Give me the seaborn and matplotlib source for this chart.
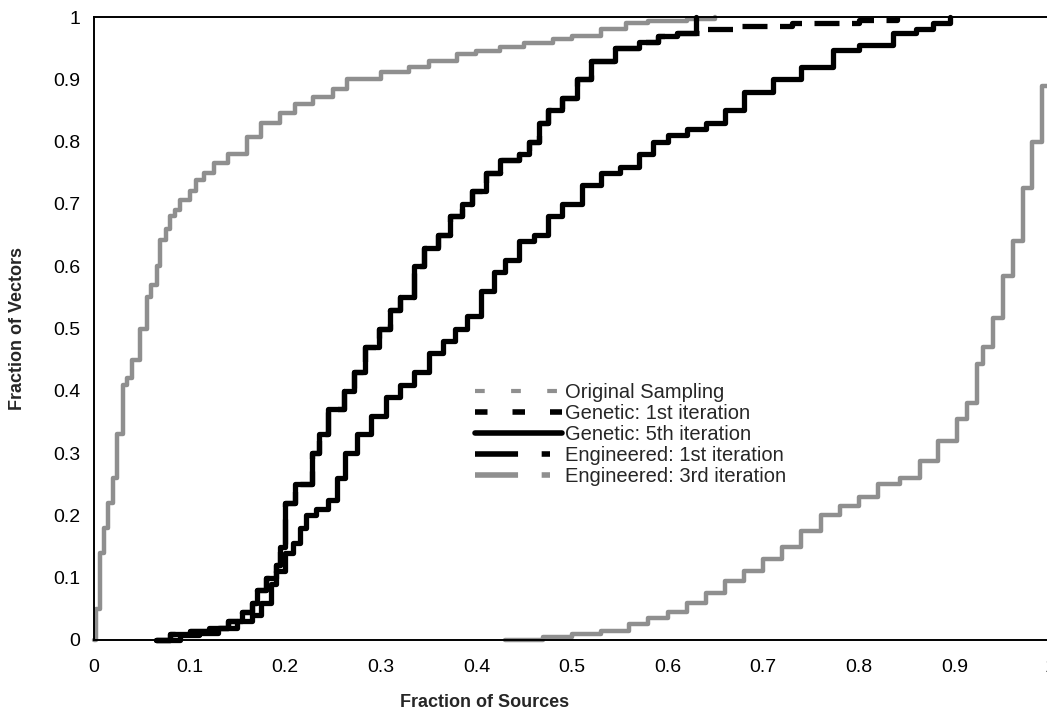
import numpy as np
import pandas as pd
import seaborn as sns
import matplotlib.pyplot as plt
from matplotlib.lines import Line2D
from matplotlib.ticker import FuncFormatter

# cumulative fractions
orig_x = [0.0, 0.002, 0.006, 0.01, 0.015, 0.02, 0.024, 0.03, 0.034, 0.04, 0.048, 0.055, 0.06, 0.066, 0.069,
          0.075, 0.08, 0.085, 0.09, 0.1, 0.107, 0.115, 0.125, 0.14, 0.16, 0.175, 0.195, 0.21, 0.229, 0.25,
          0.265, 0.3, 0.33, 0.35, 0.38, 0.4, 0.425, 0.45, 0.48, 0.5, 0.53, 0.557, 0.58, 0.62, 0.65]
orig_y = [0.0, 0.05, 0.14, 0.18, 0.22, 0.26, 0.33, 0.41, 0.42, 0.45, 0.5, 0.55, 0.57, 0.6, 0.642,
          0.66, 0.68, 0.69, 0.706, 0.72, 0.738, 0.75, 0.765, 0.78, 0.807, 0.83, 0.846, 0.86, 0.872, 0.885,
          0.9, 0.912, 0.92, 0.93, 0.94, 0.945, 0.952, 0.958, 0.965, 0.97, 0.98, 0.99, 0.993, 0.996, 1.0]

gen5_x = [0.065, 0.08, 0.10, 0.12, 0.14, 0.155, 0.165, 0.17, 0.18, 0.19, 0.195, 0.20, 0.21, 0.228, 0.235,
          0.245, 0.262, 0.272, 0.283, 0.298, 0.31, 0.32, 0.335, 0.345, 0.36, 0.372, 0.385, 0.395, 0.41,
          0.425, 0.445, 0.455, 0.465, 0.475, 0.49, 0.505, 0.52, 0.545, 0.57, 0.59, 0.61, 0.63]
gen5_y = [0.0, 0.01, 0.015, 0.02, 0.03, 0.045, 0.06, 0.08, 0.10, 0.12, 0.15, 0.22, 0.25, 0.30, 0.33,
          0.37, 0.40, 0.43, 0.47, 0.50, 0.53, 0.55, 0.60, 0.63, 0.65, 0.68, 0.70, 0.72, 0.75,
          0.77, 0.78, 0.80, 0.83, 0.85, 0.87, 0.90, 0.93, 0.95, 0.96, 0.97, 0.975, 1.0]

gen1_x = [0.065, 0.08, 0.10, 0.12, 0.14, 0.155, 0.165, 0.17, 0.18, 0.19, 0.195, 0.20, 0.21, 0.228, 0.235,
          0.245, 0.262, 0.272, 0.283, 0.298, 0.31, 0.32, 0.335, 0.345, 0.36, 0.372, 0.385, 0.395, 0.41,
          0.425, 0.445, 0.455, 0.465, 0.475, 0.49, 0.505, 0.52, 0.545, 0.57, 0.59, 0.61, 0.64, 0.67,
          0.73, 0.80, 0.84]
gen1_y = [0.0, 0.01, 0.015, 0.02, 0.03, 0.045, 0.06, 0.08, 0.10, 0.12, 0.15, 0.22, 0.25, 0.30, 0.33,
          0.37, 0.40, 0.43, 0.47, 0.50, 0.53, 0.55, 0.60, 0.63, 0.65, 0.68, 0.70, 0.72, 0.75,
          0.77, 0.78, 0.80, 0.83, 0.85, 0.87, 0.90, 0.93, 0.95, 0.96, 0.97, 0.975, 0.98, 0.985,
          0.99, 0.995, 1.0]

eng1_x = [0.065, 0.09, 0.11, 0.13, 0.15, 0.165, 0.175, 0.185, 0.19, 0.2, 0.208, 0.215, 0.222, 0.232, 0.245,
          0.254, 0.263, 0.275, 0.29, 0.305, 0.32, 0.335, 0.35, 0.365, 0.378, 0.39, 0.405, 0.418, 0.43,
          0.445, 0.46, 0.475, 0.49, 0.51, 0.53, 0.55, 0.57, 0.585, 0.60, 0.62, 0.64, 0.66, 0.68, 0.71,
          0.74, 0.773, 0.80, 0.836, 0.86, 0.878, 0.895]
eng1_y = [0.0, 0.008, 0.012, 0.02, 0.03, 0.04, 0.06, 0.09, 0.11, 0.14, 0.155, 0.18, 0.20, 0.21, 0.225,
          0.26, 0.30, 0.33, 0.36, 0.39, 0.41, 0.43, 0.46, 0.48, 0.50, 0.52, 0.56, 0.59, 0.61,
          0.64, 0.65, 0.68, 0.70, 0.73, 0.75, 0.76, 0.78, 0.80, 0.81, 0.82, 0.83, 0.85, 0.88, 0.90,
          0.92, 0.947, 0.955, 0.974, 0.98, 0.99, 1.0]

eng3_x = [0.43, 0.47, 0.5, 0.53, 0.56, 0.58, 0.6, 0.62, 0.64, 0.66, 0.68, 0.7, 0.72, 0.74, 0.76, 0.78,
          0.8, 0.82, 0.843, 0.864, 0.883, 0.903, 0.913, 0.924, 0.93, 0.94, 0.951, 0.961, 0.972, 0.981,
          0.992, 1.0]
eng3_y = [0.0, 0.005, 0.01, 0.015, 0.025, 0.035, 0.045, 0.06, 0.075, 0.095, 0.11, 0.13, 0.15, 0.175, 0.2,
          0.215, 0.23, 0.25, 0.26, 0.287, 0.32, 0.355, 0.38, 0.443, 0.47, 0.517, 0.585, 0.64, 0.726,
          0.80, 0.89, 0.89]

labels = ['Original Sampling', 'Genetic: 1st iteration', 'Genetic: 5th iteration',
          'Engineered: 1st iteration', 'Engineered: 3rd iteration']
xticks = [0, 0.1, 0.2, 0.3, 0.4, 0.5, 0.6, 0.7, 0.8, 0.9, 1]
yticks = [0, 0.1, 0.2, 0.3, 0.4, 0.5, 0.6, 0.7, 0.8, 0.9, 1]

sns.set_style('white')
plt.rcParams['font.family'] = ['Liberation Sans', 'DejaVu Sans']
plt.rcParams['lines.scale_dashes'] = False

GRAY = '#8f8f8f'
series = [
    (orig_x, orig_y, labels[0], GRAY, 3.2, '-'),
    (eng3_x, eng3_y, labels[4], GRAY, 3.2, '-'),
    (eng1_x, eng1_y, labels[3], 'black', 3.8, '-'),
    (gen1_x, gen1_y, labels[1], 'black', 3.8, (0, (18, 9))),
    (gen5_x, gen5_y, labels[2], 'black', 3.8, '-'),
]

fig = plt.figure(figsize=(10.47, 7.25), dpi=100)
ax = fig.add_axes([94 / 1047, 85 / 725, 956 / 1047, 623 / 725])

for xs, ys, lab, col, lw, ls in series:
    df = pd.DataFrame({'x': xs, 'y': ys})
    sns.lineplot(data=df, x='x', y='y', ax=ax, color=col, linewidth=lw, linestyle=ls,
                 drawstyle='steps-post', estimator=None, sort=False, clip_on=False)

ax.set_xlim(0, 1)
ax.set_ylim(0, 1)
ax.set_xticks(xticks)
ax.set_yticks(yticks)
fmt = FuncFormatter(lambda v, p: '%g' % v)
ax.xaxis.set_major_formatter(fmt)
ax.yaxis.set_major_formatter(fmt)
ax.tick_params(direction='inout', length=8, width=1, labelsize=14, colors='black')
ax.tick_params(axis='x', pad=10)
ax.tick_params(axis='y', pad=6)
for side in ['left', 'bottom', 'top']:
    ax.spines[side].set_color('black')
    ax.spines[side].set_linewidth(1.4)
ax.spines['right'].set_visible(False)

ax.set_xlabel('Fraction of Sources', fontsize=13, fontweight='bold')
ax.set_ylabel('Fraction of Vectors', fontsize=13, fontweight='bold')
ax.xaxis.set_label_coords((485 - 94) / 956, -0.086)
ax.yaxis.set_label_coords(-0.071, 0.5)

handles = [
    Line2D([], [], color=GRAY, linewidth=3, linestyle=(0, (7, 19))),
    Line2D([], [], color='black', linewidth=4, linestyle=(0, (9, 18))),
    Line2D([], [], color='black', linewidth=4, linestyle='-'),
    Line2D([], [], color='black', linewidth=4, linestyle=(0, (31, 17, 6, 17))),
    Line2D([], [], color=GRAY, linewidth=4, linestyle=(0, (31, 17, 6, 17))),
]
ax.legend(handles, labels, loc='upper left', bbox_to_anchor=((475 - 94) / 956, (640 - 383) / 623),
          frameon=False, fontsize=14.5, borderpad=0, borderaxespad=0, labelspacing=0.1,
          handlelength=4.3, handletextpad=0.15)

fig.savefig('out.png', dpi=100)
